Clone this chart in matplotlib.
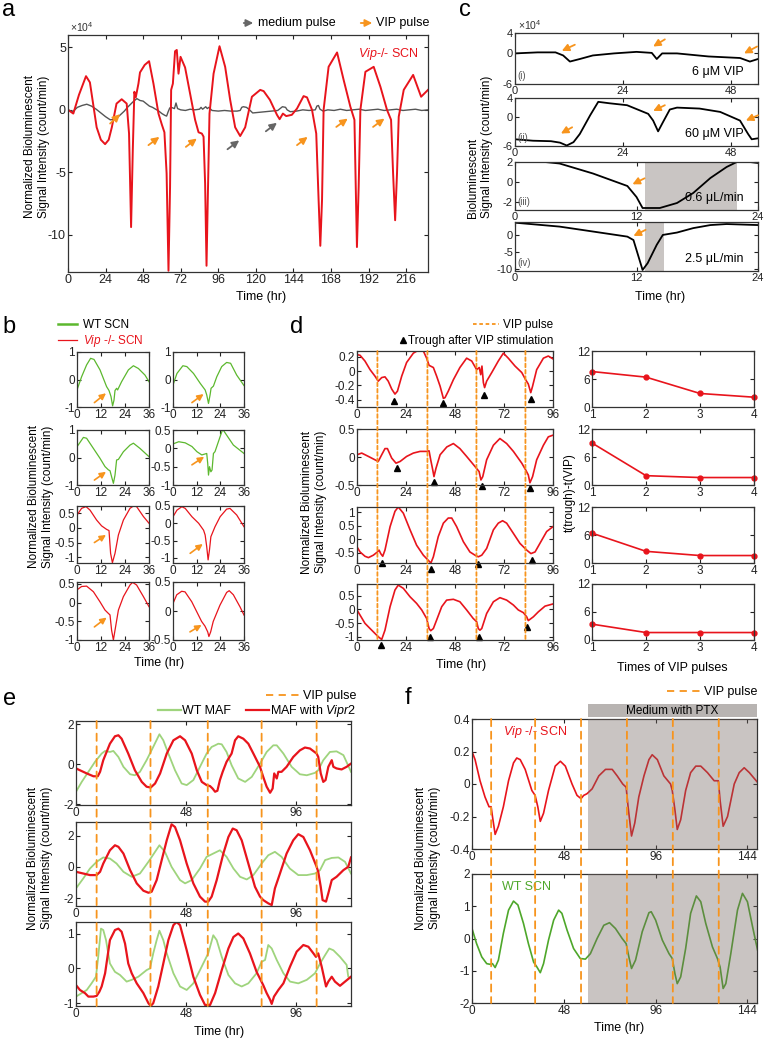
import matplotlib
matplotlib.use('Agg')
import matplotlib.pyplot as plt
from matplotlib.patches import ConnectionPatch, Rectangle
from matplotlib.lines import Line2D
from matplotlib.ticker import FuncFormatter

plt.rcParams['font.family'] = ['Liberation Sans', 'DejaVu Sans']
plt.rcParams['axes.unicode_minus'] = False
plt.rcParams['mathtext.fontset'] = 'custom'
plt.rcParams['mathtext.rm'] = 'Liberation Sans'
plt.rcParams['mathtext.it'] = 'Liberation Sans:italic'

RED = '#e8141c'
ORANGE = '#f7941d'
GRAY = '#555555'
GREEN_B = '#5cb82e'
GREEN_E = '#9fd47d'
GREEN_F = '#4ea72a'

## ---------------- data ----------------
# panel a : Vip-/- SCN (red) and medium control (gray), x10^4 count/min
a_red = [(0, 0), (3.4, -0.3), (7, 1.2), (11.5, 2.7), (14, 2.2), (18.3, -1.4), (21, -2.4),
         (23.7, -2.75), (26, -2.4), (28, -1.4), (31, 0.5), (34.3, 0.85), (37.5, 0.5), (39, -1.9),
         (40.3, -9.4), (41.4, -3.2), (42.4, 1.45), (43.3, 1.0), (45, 2.1), (46, 3.0), (49, 3.6),
         (51.8, 3.9), (54.6, 2.1), (57.8, -0.3), (60, -1.2), (61.6, -1.8), (63, -5.1), (64.2, -12.9),
         (65.2, -6.2), (65.9, 1.6), (67, 2.1), (68.4, 4.7), (69.5, 4.8), (70.6, 2.9), (71.9, 4.25),
         (74.8, 3.4), (78, 1.3), (81.2, -0.8), (83.4, -1.8), (85.5, -1.9), (86.6, -2.15),
         (87.6, -5.9), (88.5, -12.5), (89.3, -7.2), (90.4, -0.3), (93, 2.9), (96.8, 5.1),
         (100.4, 3.45), (103.6, 0.8), (106.8, -1.4), (110, -2.1), (113.2, -1.4), (117.5, 1.05),
         (122.8, 1.6), (125, 1.5), (129, 0.8), (133.5, -0.4), (135.2, -0.75), (137.3, -0.3),
         (139.4, -0.5), (143, -0.4), (146.3, 0.1), (150.5, 1.1), (152.7, 1.0), (155.9, 0),
         (158.6, -1.9), (160.1, -7.2), (161.2, -10.9), (162.3, -7.2), (163.3, 0), (166.5, 3.45),
         (171.9, 4.6), (176.1, 2.4), (180.4, 0.25), (183, -0.8), (183.8, -5.9), (184.6, -11.0),
         (185.7, -6.2), (186.8, 0), (190, 3.05), (195.3, 3.45), (199.6, 1.85), (203.8, 0),
         (206.4, -0.8), (207.7, -5.1), (209, -8.85), (210.2, -5.1), (211.3, -0.55), (214.5, 1.6),
         (220.5, 2.8), (225.6, 1.05), (230, 1.6)]
a_gray = [(0, 0), (3, -0.15), (6, 0.2), (9, 0.35), (12, 0.45), (15, 0.3), (18, 0.05), (21, -0.25),
          (24, -0.55), (27, -0.8), (30, -0.75), (33, -0.45), (36, -0.1), (38, 0.2), (40, 0.45),
          (42, 0.7), (44, 0.9), (46, 0.75), (48, 0.7), (50, 0.5), (52, 0.3), (54, 0.2), (56, 0.05),
          (58, -0.1), (60, -0.3), (62, -0.45), (63, -0.5), (64, -0.15), (65, 0.15), (66, 0.2),
          (68, 0.1), (69, 0.55), (70, 0.1), (71, 0.05), (72, 0.0), (75, -0.05), (78, 0.05),
          (81, 0.0), (84, 0.05), (85, 0.2), (86, 0.05), (88, 0.25), (89, 0.1), (90, 0.2),
          (92, -0.05), (96, -0.1), (100, -0.05), (104, -0.1), (108, -0.1), (110, -0.05),
          (111, 0.2), (112, 0.25), (114, 0.2), (116, 0.0), (118, -0.25), (122, -0.2),
          (126, -0.15), (130, -0.1), (134, -0.05), (136, 0.15), (137, 0.25), (139, 0.2),
          (140, 0.0), (142, -0.15), (146, -0.1), (150, 0.0), (154, -0.05), (158, 0.0),
          (159, 0.3), (160, 0.35), (161, 0.05), (163, -0.1), (166, 0.0), (170, -0.05),
          (174, 0.05), (178, -0.05), (182, 0.0), (186, 0.05), (190, -0.05), (194, 0.0),
          (198, 0.05), (202, -0.05), (206, 0.0), (210, 0.05), (214, -0.05), (218, 0.0),
          (222, 0.05), (226, -0.05), (230, 0.0)]
# arrows (tail t, tail v, head t, head v)
a_vip_arrows = [(26.9, -1.1, 33.3, -0.35), (51.4, -2.83, 58.4, -2.17), (75.3, -2.97, 82.3, -2.3),
                (146.3, -2.83, 153.1, -2.17), (171.4, -1.37, 178.7, -0.7), (194.9, -1.37, 202.2, -0.7)]
a_med_arrows = [(101.9, -3.16, 109.4, -2.45), (126.4, -1.72, 133.5, -1.04)]

# panel b : single pulses, WT (green) and Vip-/- (red)
b_wt1 = [(0, -0.38), (2.3, 0.1), (4.8, 0.53), (6.8, 0.77), (8.5, 0.73), (11.5, 0.35), (14.8, -0.26),
         (16, -0.4), (17, -0.62), (17.8, -0.96), (18.5, -0.75), (19, -0.4), (19.8, -0.32),
         (20.3, -0.38), (22.3, -0.08), (25.7, 0.35), (28.2, 0.5), (30.7, 0.4), (34, 0.16), (36, -0.08)]
b_wt2 = [(0, -0.2), (2, 0.22), (5, 0.5), (7, 0.47), (10.4, 0.22), (13.8, -0.14), (16.3, -0.38),
         (17.1, -0.56), (18, -0.87), (18.8, -0.56), (19.3, -0.32), (20.5, -0.24), (22.2, 0.1),
         (24.7, 0.47), (27.2, 0.62), (29.2, 0.59), (32.3, 0.16), (36, -0.22)]
b_wt3 = [(0, 0.39), (3.2, 0.73), (4.8, 0.7), (8.2, 0.33), (11.5, -0.03), (14, -0.33), (15.7, -0.45),
         (16.5, -0.48), (17.3, -0.7), (18.2, -0.94), (19, -0.64), (19.8, -0.09), (20.7, -0.07),
         (23.2, 0.21), (26.5, 0.45), (28.2, 0.52), (31.5, 0.33), (36, 0.03)]
b_wt4 = [(0, 0.12), (2.9, 0.18), (6.2, 0.15), (9.6, 0.05), (12.1, -0.09), (14.6, -0.18), (17.1, -0.14),
         (17.6, -0.41), (18, -0.73), (18.5, -0.5), (19.2, -0.64), (19.8, -0.59), (20.5, -0.14),
         (21.3, -0.09), (23.9, 0.32), (25.2, 0.52), (27.2, 0.36), (30.6, 0.09), (36, -0.14)]
b_ko1 = [(0, 0.44), (2.3, 0.67), (4.5, 0.73), (6.5, 0.61), (9.8, 0.27), (12.3, 0.07), (14.8, -0.05),
         (16, -0.09), (16.8, -0.87), (17.7, -1.19), (19, -0.87), (20.7, -0.24), (23.2, 0.27),
         (26.5, 0.67), (28.2, 0.75), (29.8, 0.73), (33.2, 0.39), (36, 0.16)]
b_ko2 = [(0, 0.19), (2, 0.38), (4.5, 0.48), (6.2, 0.43), (9.6, 0.19), (13, 0), (15.5, -0.2),
         (16.3, -0.34), (17.1, -0.68), (17.8, -1.06), (18.5, -0.77), (19.2, -0.39), (21.3, -0.1),
         (23.9, 0.19), (27.2, 0.41), (28.9, 0.43), (32.3, 0.24), (36, -0.1)]
b_ko3 = [(0, 0.34), (2.3, 0.43), (4.8, 0.44), (8.2, 0.29), (11.5, 0.02), (14, -0.2), (15.7, -0.29),
         (16.5, -0.33), (17.3, -0.74), (18.2, -1.0), (19, -0.74), (20.7, -0.2), (23.2, 0.16),
         (26.5, 0.47), (27.8, 0.54), (29.8, 0.47), (33.2, 0.16), (36, -0.11)]
b_ko4 = [(0, 0.13), (1.9, 0.28), (4.4, 0.34), (6.1, 0.33), (9.5, 0.16), (12, -0.01), (14.5, -0.18),
         (16.2, -0.26), (17.6, -0.36), (18.2, -0.44), (19.1, -0.36), (20.4, -0.18), (23.8, 0.1),
         (27.2, 0.32), (28.5, 0.35), (30.6, 0.28), (34, 0.07), (36, -0.07)]
b_arrows = [(8.7, -0.84, 14.5, -0.5), (9.6, -0.84, 15.5, -0.53), (8.7, -0.82, 14.5, -0.52),
            (9.6, -0.45, 15.8, -0.23), (8.7, -0.5, 14.5, -0.24), (8.7, -0.87, 15.1, -0.6),
            (8.7, -0.65, 14.8, -0.4), (8.6, -0.36, 14.5, -0.24)]
b_ylims = [(-1, 1), (-1, 1), (-1, 1), (-1, 0.5), (-1.2, 0.75), (-1.15, 0.5), (-1, 0.55), (-0.5, 0.5)]
b_yticks = [[-1, 0, 1], [-1, 0, 1], [-1, 0, 1], [-1, -0.5, 0, 0.5], [-1, -0.5, 0, 0.5],
            [-1, -0.5, 0, 0.5], [-1, -0.5, 0, 0.5], [-0.5, 0, 0.5]]

# panel c : dose / flow rate
c1 = [(0, 0), (5, 0.2), (9, 0.2), (10.7, -0.4), (12.2, -1.6), (14.4, -1.1), (17.3, -0.4), (22, 0),
      (27, 0.3), (30.4, 0.1), (31.5, -1.1), (32.7, 0), (36, 0), (43, -0.6), (50, -0.9), (52.2, -1.6),
      (54, -1.1)]
c2 = [(0, -4.6), (4, -4.9), (8, -5.0), (10, -5.3), (11.5, -5.9), (13, -5.2), (14.4, -3.5), (16.7, 0.4),
      (18.5, 3.2), (21, 2.9), (24.9, 2.5), (29.6, 0.7), (30.7, -0.7), (31.8, -2.95), (32.9, -1.0),
      (34.4, 1.6), (36, 2.0), (41, 1.8), (45.6, 1.1), (50, -0.7), (51.8, -3.5), (52.6, -4.6), (54, -4.4)]
c3 = [(0, 2.3), (2, 2.1), (4.4, 1.85), (7.7, 0.85), (11.1, -0.4), (12, -1.5), (12.6, -2.6),
      (14.3, -2.6), (16, -2.1), (17.6, -1.1), (19.3, 0.4), (20.9, 1.5), (21.9, 2.0), (23.2, 2.0),
      (24, 1.9)]
c4 = [(0, 3.6), (4.4, 2.45), (7.7, 1.0), (11.1, -0.5), (11.7, -1.5), (12.1, -5.4), (12.6, -10.3),
      (13.1, -8.3), (14, -2.9), (14.6, 0), (16, 0.7), (17.6, 2.0), (19.3, 2.9), (20.9, 3.2), (24, 2.9)]
c1_arrows = [(13.3, 1.7, 10.4, 0.5), (33.3, 2.75, 30.7, 1.35), (53.8, 1.35, 50.9, 0.0)]
c2_arrows = [(12.7, -2.1, 10.2, -3.4), (33.3, 2.5, 30.7, 1.3), (54.0, 0.4, 51.3, -0.7)]
c3_arrows = [(12.8, 0.37, 11.6, -0.23)]
c4_arrows = [(12.9, 1.5, 11.7, -0.3)]
c3_shade = (12.8, 21.9)
c4_shade = (12.8, 14.7)

# panel d : repeated VIP pulses
d1 = [(0, 0.23), (1.5, 0.22), (3.9, 0.14), (6.4, 0.02), (8.8, -0.07), (10.4, -0.14), (12.1, -0.09),
      (13.7, -0.08), (15.3, -0.14), (17, -0.25), (18.6, -0.32), (19.8, -0.28), (21.9, -0.07),
      (24.3, 0.12), (27.6, 0.25), (30, 0.29), (32.5, 0.28), (34.1, 0.18), (35.3, 0.08), (37.4, 0.05),
      (39, -0.07), (40.7, -0.21), (42.3, -0.38), (43.1, -0.37), (44.7, -0.28), (47.2, -0.12),
      (50.4, 0.05), (53.7, 0.18), (56.2, 0.14), (58.6, 0.02), (59.9, 0.05), (60.6, -0.05),
      (61.2, 0.07), (61.9, -0.16), (62.5, -0.23), (63.5, -0.14), (66, -0.02), (69.2, 0.14),
      (71.7, 0.25), (74.1, 0.18), (77.4, 0.07), (80.7, -0.02), (82.6, -0.12), (83.9, -0.18),
      (85.1, -0.3), (86, -0.21), (88, 0.02), (91.3, 0.18), (93.7, 0.21), (96, 0.17)]
d2 = [(0, 0.04), (2.3, 0.07), (5.6, 0.01), (8.8, -0.05), (10.4, -0.08), (12.1, 0.04), (13.7, 0.15),
      (14.9, 0.15), (17, -0.02), (19.1, -0.11), (21.1, -0.08), (24.3, 0.01), (27.6, 0.07),
      (30.9, 0.1), (34.1, 0.1), (35.3, 0.11), (36.1, -0.05), (37.1, -0.23), (37.7, -0.35),
      (38.7, -0.2), (40.7, 0.04), (44, 0.18), (47.2, 0.24), (50.4, 0.15), (53.7, 0.01),
      (57.8, -0.17), (59.8, -0.26), (60.7, -0.41), (61.6, -0.35), (63.5, -0.05), (66.8, 0.21),
      (70, 0.33), (73.3, 0.24), (76.6, 0.1), (80.7, -0.11), (82.6, -0.23), (83.9, -0.32),
      (84.7, -0.46), (86, -0.35), (88, -0.05), (91.3, 0.21), (93.7, 0.36), (96, 0.39)]
d3 = [(0, -0.29), (1.5, -0.48), (3.9, -0.64), (5.6, -0.69), (8, -0.6), (10, -0.48), (10.8, -0.41),
      (11.6, -0.54), (12.6, -0.64), (13.7, -0.41), (16.2, 0.46), (18.6, 1.03), (20.2, 1.19),
      (22.7, 0.96), (26, 0.34), (29.2, -0.23), (32.5, -0.6), (34.9, -0.79), (36.2, -0.89),
      (37.4, -0.66), (39.8, 0.09), (42.3, 0.59), (44.7, 0.78), (46.4, 0.78), (48.8, 0.46),
      (52.1, -0.1), (55.3, -0.48), (57.8, -0.6), (59.4, -0.66), (61.1, -0.6), (63.5, -0.35),
      (66.8, 0.34), (69.2, 0.59), (71.3, 0.68), (73.3, 0.59), (76.6, 0.21), (79.8, -0.16),
      (83.1, -0.41), (85.2, -0.54), (87.2, -0.48), (89.6, -0.16), (92.9, 0.28), (96, 0.46)]
d4 = [(0, -0.02), (1.5, -0.21), (3.9, -0.51), (6.4, -0.7), (8.8, -0.88), (10.4, -1.0), (12.1, -1.1),
      (13.7, -0.76), (16.2, 0.1), (18.6, 0.71), (20.2, 0.89), (22.7, 0.77), (26, 0.46), (29.2, 0.22),
      (31.7, -0.02), (34.1, -0.33), (35.3, -0.7), (36.1, -0.78), (37.4, -0.7), (39, -0.39),
      (41.5, 0.1), (43.9, 0.34), (47.2, 0.37), (50.4, 0.28), (53.7, -0.02), (56.9, -0.33),
      (58.6, -0.45), (59.4, -0.7), (60.2, -0.76), (61.1, -0.7), (63.5, -0.15), (66.8, 0.28),
      (70, 0.43), (73.3, 0.34), (76.6, 0.16), (79, -0.02), (81.5, -0.12), (83.1, -0.27),
      (83.9, -0.41), (86.4, -0.27), (88.8, -0.09), (92.1, 0.12), (96, 0.2)]
d1_troughs = [(18.3, -0.42), (42.3, -0.45), (62.4, -0.33), (85.1, -0.39)]
d2_troughs = [(19.8, -0.2), (37.7, -0.45), (61.1, -0.51), (84.7, -0.56)]
d3_troughs = [(12.1, -0.89), (36.2, -1.1), (59.4, -0.91), (85.6, -0.79)]
d4_troughs = [(11.8, -1.3), (35.8, -1.0), (59.9, -1.0), (83.4, -0.63)]
d_ylims = [(-0.5, 0.28), (-0.5, 0.5), (-0.89, 1.19), (-1.12, 0.93)]
d_yticks = [[-0.4, -0.2, 0, 0.2], [-0.5, 0, 0.5], [-0.5, 0, 0.5, 1], [-1, -0.5, 0, 0.5]]
d_pulses = [10, 34.5, 58.5, 82.5]
pulse_no = [1, 2, 3, 4]
d_delay1 = [7.6, 6.4, 2.9, 2.1]
d_delay2 = [9.0, 2.0, 1.6, 1.6]
d_delay3 = [6.4, 2.5, 1.6, 1.6]
d_delay4 = [3.4, 1.6, 1.6, 1.6]

# panel e : MAF with / without Vipr2
e_red1 = [(0, -0.21), (1.7, -0.3), (4.7, -0.46), (7.6, -0.6), (9.5, -0.6), (10.5, -0.38), (11.9, 0.2),
          (14.8, 1.02), (17, 1.39), (18.5, 1.44), (19.9, 1.27), (22.8, 0.53), (25.7, -0.3),
          (28.7, -0.88), (30.8, -1.12), (32.6, -1.16), (34.5, -0.96), (36.7, -0.46), (39.6, 0.53),
          (42.5, 1.19), (45.4, 1.39), (47.6, 1.19), (50.5, 0.53), (52.7, -0.3), (54.9, -0.88),
          (57, -1.04), (58.5, -1.09), (59.6, -1.21), (60.7, -1.37), (61.7, -1.32), (62.8, -0.79),
          (64, -0.38), (65.7, 0.12), (67.9, 0.53), (69.4, 1.19), (70.8, 1.39), (73, 1.27),
          (75.2, 1.02), (77.4, 0.53), (80.3, -0.13), (81.7, -0.63), (83.2, -1.12), (84.7, -1.42),
          (85.8, -1.21), (86.5, -0.46), (87.6, -0.71), (88.3, -0.38), (89.7, -0.38), (91.9, -0.13),
          (94.8, 0.36), (97.7, 0.69), (99.9, 0.83), (102.1, 0.78), (105, 0.53), (105.7, 0.36),
          (106.8, -0.46), (107.9, -0.88), (108.9, -0.79), (110.1, -0.13), (111.6, 0.2),
          (112.3, -0.13), (113.7, -0.21), (115.9, -0.26), (118.1, -0.13), (120, 0.03)]
e_wt1 = [(0, -1.37), (2.5, -0.88), (5.4, -0.38), (8.3, 0.12), (11.2, 0.53), (12.7, 0.66), (14.8, 0.61),
         (16.3, 0.66), (18.5, 0.36), (20.7, -0.13), (23.6, -0.5), (25.7, -0.55), (27.9, -0.38),
         (30.8, 0.2), (33.7, 0.86), (36.4, 1.49), (38.1, 1.19), (40.3, 0.53), (43.2, -0.3),
         (46.1, -0.96), (48.3, -1.04), (51.2, -0.79), (54.1, -0.13), (57, 0.53), (59.2, 0.86),
         (60.7, 0.94), (62.1, 1.02), (63.6, 0.99), (65.7, 0.61), (67.9, -0.05), (70.8, -0.71),
         (73.8, -0.88), (76.7, -0.63), (80.3, 0.03), (83.2, 0.61), (86.1, 0.94), (87.6, 0.94),
         (90.5, 0.53), (94.1, -0.13), (97.7, -0.5), (100.7, -0.55), (104.3, -0.43), (105.7, -0.3),
         (107.9, 0.2), (110.8, 0.61), (113.7, 0.64), (116.7, 0.45), (120, -0.38)]
e_red2 = [(0, -0.32), (3.2, -0.43), (6.1, -0.53), (9, -0.53), (10.5, -0.32), (11.9, 0.21), (14.8, 1.06),
          (17, 1.38), (18.5, 1.28), (20.7, 0.85), (23.6, -0.21), (26.5, -1.06), (29.4, -1.53),
          (31.6, -1.66), (33, -1.6), (35.2, -0.85), (37.4, 0.43), (39.6, 1.7), (41.7, 2.72),
          (43.2, 2.55), (45.4, 1.7), (48.3, 0.21), (51.2, -1.06), (54.1, -1.91), (56.3, -2.23),
          (57.7, -2.23), (59.2, -1.91), (61.4, -0.85), (64.3, 0.85), (66.5, 1.91), (68.4, 2.45),
          (70.1, 2.34), (72.3, 1.7), (75.2, 0.21), (78.1, -1.28), (80.3, -1.91), (81.7, -2.13),
          (83.9, -2.34), (85.4, -2.45), (86.8, -1.38), (89, -0.43), (91.9, 0.85), (94.8, 1.7),
          (97, 2.09), (99.2, 1.91), (102.1, 1.06), (105, 0), (105.7, -0.32), (106.8, -1.28),
          (107.6, -2.13), (109.1, -2.23), (110.1, -1.7), (111.6, -0.85), (113.7, -0.64),
          (116.7, -0.21), (118.8, 0), (120, 0.6)]
e_wt2 = [(0, -1.38), (3.2, -0.74), (6.1, -0.11), (9, 0.32), (11.9, 0.6), (14.8, 0.53), (17.7, 0.21),
         (20.7, -0.32), (24.3, -0.64), (27.9, -0.43), (31.6, 0.32), (34.5, 0.96), (36.4, 1.38),
         (38.8, 0.96), (41.7, 0), (45.4, -0.85), (47.6, -1.06), (50.5, -0.85), (54.1, -0.11),
         (57, 0.64), (59.9, 0.85), (62.8, 1.06), (65.7, 0.64), (68.7, -0.11), (71.6, -0.64),
         (74.5, -0.81), (77.4, -0.53), (81, 0.21), (83.9, 0.74), (86.8, 0.96), (89.7, 0.64),
         (93.3, -0.11), (97, -0.53), (100.7, -0.53), (104.3, -0.43), (106.5, -0.21), (108.7, 0.43),
         (111.6, 0.57), (114.5, 0.6), (117.4, 0.32), (120, -0.43)]
e_red3 = [(0, -0.48), (1.7, -0.62), (3.9, -0.71), (5.4, -0.81), (7.6, -0.81), (9, -0.79), (10.2, -0.67),
          (11.2, -0.52), (12.7, -0.14), (14.8, 0.81), (17, 1.1), (18.5, 1.14), (19.9, 1.05),
          (21.4, 0.71), (22.8, 0.14), (24.3, -0.14), (26.5, -0.43), (29.4, -0.71), (31.6, -1.0),
          (32.6, -1.08), (33.7, -1.0), (35.9, -0.52), (38.1, 0.14), (40.3, 0.81), (42.5, 1.24),
          (43.9, 1.33), (45.4, 1.24), (48.3, 0.52), (51.2, -0.24), (54.1, -0.76), (56.3, -1.05),
          (58.5, -1.05), (60.7, -0.71), (63.6, -0.05), (66.5, 0.57), (68.7, 0.9), (70.8, 1.0),
          (73, 0.86), (75.9, 0.43), (78.8, -0.1), (81.7, -0.48), (83.2, -0.71), (84.7, -0.9),
          (85.4, -1.02), (86.4, -0.81), (88.3, -0.62), (90.5, -0.43), (93.4, 0.05), (96.3, 0.48),
          (99.2, 0.67), (101.4, 0.62), (103.6, 0.43), (104.7, 0.33), (105.7, 0.43), (107.2, 0.05),
          (109.1, -0.52), (110.1, -0.38), (111.6, -0.24), (113, -0.38), (115.2, -0.5),
          (117.4, -0.38), (120, -0.24)]
e_wt3 = [(0, -0.81), (2.5, -0.71), (4.7, -0.62), (6.8, -0.43), (8.7, -0.24), (9.7, 0.33), (10.9, 1.14),
         (11.9, 1.1), (13.1, 0.81), (14.8, 0.14), (17, -0.1), (19.2, -0.19), (22.1, -0.38),
         (24.3, -0.33), (27.2, -0.24), (30.8, -0.05), (32.3, 0), (33.7, 0.43), (35.2, 0.81),
         (36.4, 1.08), (38.1, 0.81), (39.6, 0.43), (42.5, -0.14), (45.4, -0.52), (48.3, -0.62),
         (51.2, -0.43), (54.1, -0.05), (57.7, 0.43), (59.9, 0.95), (61.4, 0.81), (63.6, 0.33),
         (66.5, -0.19), (69.4, -0.43), (72.3, -0.52), (75.2, -0.43), (78.8, -0.14), (81, 0.19),
         (82.5, 0.24), (83.9, 0.67), (85.4, 0.57), (87.6, 0.24), (90.5, -0.14), (93.4, -0.38),
         (97, -0.43), (100.7, -0.33), (104.3, -0.14), (106.5, 0.14), (108.7, 0.38), (110.5, 0.57),
         (112.3, 0.52), (115.2, 0.33), (118.1, 0.1), (118.8, -0.24), (120, -0.29)]
e_ylims = [(-2.03, 2.15), (-2.51, 2.87), (-1.08, 1.33)]
e_yticks = [[-2, 0, 2], [-2, 0, 2], [-1, 0, 1]]
e_pulses = [9, 32.5, 57.5, 81, 105]

# panel f : PTX treatment
f_red = [(0, 0.2), (1.6, 0.15), (4.2, 0.02), (6.8, -0.08), (8.9, -0.14), (10, -0.14), (10.7, -0.2),
         (12.1, -0.31), (13.8, -0.26), (16.4, -0.14), (19.1, 0.02), (21.7, 0.13), (23.4, 0.16),
         (25.2, 0.15), (27.8, 0.09), (31.3, -0.04), (33, -0.07), (34.4, -0.14), (35.7, -0.23),
         (37.4, -0.18), (40, -0.04), (43.5, 0.11), (46.2, 0.14), (48.8, 0.11), (52.3, 0),
         (54.9, -0.07), (57, -0.09), (58.4, -0.07), (60.1, -0.06), (62.8, -0.03), (66.3, 0.05),
         (69.8, 0.09), (73.3, 0.09), (75.9, 0.05), (78.8, 0), (80.6, -0.02), (81.6, -0.14),
         (83.4, -0.32), (85.1, -0.24), (87.2, -0.08), (89.9, 0.05), (92.5, 0.15), (94.2, 0.18),
         (96.9, 0.15), (100.3, 0.05), (103.8, 0), (104.7, -0.04), (106.1, -0.16), (107.3, -0.28),
         (109.1, -0.22), (111.7, -0.04), (114.3, 0.07), (117, 0.11), (119.6, 0.11), (123.1, 0.07),
         (126.6, 0.02), (128.8, 0.02), (129.7, -0.1), (131.3, -0.26), (133.6, -0.2), (137.1, 0),
         (139.7, 0.07), (142.3, 0.1), (145, 0.07), (149.3, 0.01)]
f_wt = [(0, 0.31), (2.4, -0.16), (5.1, -0.57), (7.7, -0.78), (9.4, -0.8), (10.7, -0.78), (12.1, -0.9),
        (13.8, -0.67), (16.4, 0.16), (19.1, 0.88), (21.7, 1.16), (24, 1.04), (26.9, 0.47),
        (29.5, -0.16), (32.2, -0.73), (33.9, -0.88), (35.7, -1.06), (37.4, -0.78), (40, -0.05),
        (42.7, 0.57), (45.3, 0.88), (47, 0.78), (49.7, 0.26), (53.1, -0.31), (56.6, -0.62),
        (59.3, -0.64), (61.9, -0.47), (65.4, 0), (68.9, 0.41), (71.9, 0.49), (75, 0.31), (78.5, 0),
        (80.6, -0.16), (82, -0.57), (83.4, -0.93), (85.5, -0.67), (89, 0.21), (92.5, 0.8),
        (93.7, 0.83), (96, 0.57), (99.5, -0.05), (103, -0.47), (104.7, -0.62), (106.1, -1.09),
        (107.3, -1.4), (109.1, -1.19), (111.7, -0.31), (114.3, 0.78), (117.3, 1.32), (119.6, 1.14),
        (122.2, 0.47), (125.7, -0.26), (128.3, -0.62), (129.7, -0.88), (131.3, -1.55),
        (132.7, -1.4), (135.3, -0.47), (138.8, 0.88), (141.4, 1.4), (144, 1.14), (146.7, 0.36),
        (149.3, -0.36)]
f_pulses = [10, 33, 57, 81, 105, 129]
f_ptx_start = 60.5

## ---------------- helpers ----------------
W, H = 765, 1041
fig = plt.figure(figsize=(W / 100, H / 100), dpi=100)


def box(l, t, r, b):
    return [l / W, 1 - b / H, (r - l) / W, (b - t) / H]


def ftext(x, y, s, **kw):
    fig.text(x / W, 1 - y / H, s, **kw)


def gfmt(v, p):
    return '%g' % v


def style(ax, xlim, ylim, xt, yt, fs=8.5):
    ax.set_xlim(xlim)
    ax.set_ylim(ylim)
    ax.set_xticks(xt)
    ax.set_yticks(yt)
    ax.xaxis.set_major_formatter(FuncFormatter(gfmt))
    ax.yaxis.set_major_formatter(FuncFormatter(gfmt))
    ax.tick_params(direction='in', top=True, right=True, length=3, width=0.8,
                   labelsize=fs, pad=1.5, colors='#222222')
    for s in ax.spines.values():
        s.set_linewidth(0.9)
        s.set_color('#333333')


def arrow(ax, a, color, lw=1.3, ms=7):
    ax.annotate('', xy=(a[2], a[3]), xytext=(a[0], a[1]),
                arrowprops=dict(arrowstyle='-|>,head_length=0.6,head_width=0.3', color=color,
                                lw=lw, shrinkA=0, shrinkB=0, mutation_scale=ms),
                annotation_clip=False)


def pulse_lines(ax_top, ax_bot, times, dashes):
    for t in times:
        con = ConnectionPatch(xyA=(t, 1), coordsA=ax_top.get_xaxis_transform(),
                              xyB=(t, 0), coordsB=ax_bot.get_xaxis_transform(),
                              color=ORANGE, lw=1.3, ls=(0, dashes))
        fig.add_artist(con)


def ylab(x, y, s, **kw):
    ftext(x, y, s, rotation=90, ha='center', va='center', fontsize=8.5, **kw)


def xy(series):
    return [p[0] for p in series], [p[1] for p in series]


## ---------------- panel a ----------------
ax = fig.add_axes(box(68, 35, 428, 272))
ax.plot(*xy(a_gray), color=GRAY, lw=1.0)
ax.plot(*xy(a_red), color=RED, lw=1.4)
for a in a_vip_arrows:
    arrow(ax, a, ORANGE)
for a in a_med_arrows:
    arrow(ax, a, '#666666')
style(ax, (0, 230), (-13, 6), range(0, 217, 24), [-10, -5, 0, 5], fs=9)
ax.text(0.975, 0.92, r'$\mathit{Vip}$-/- SCN', color=RED, fontsize=9, ha='right', va='center',
        transform=ax.transAxes)
ftext(70, 27, r'$\times$10$^4$', fontsize=7.5, ha='left', va='center', color='#333333')
ylab(37, 147, 'Normalized Bioluminescent\nSignal Intensity (count/min)')
ftext(261, 297, 'Time (hr)', fontsize=9, ha='center', va='center')
for x0, x1, xt, c, s in [(241, 256, 258, '#666666', 'medium pulse'), (358, 375, 376, ORANGE, 'VIP pulse')]:
    fig.add_artist(matplotlib.patches.FancyArrowPatch(
        (x0 / W, 1 - 23 / H), (x1 / W, 1 - 23 / H), transform=fig.transFigure,
        arrowstyle='-|>,head_length=0.6,head_width=0.3', mutation_scale=7, color=c, lw=1.3))
    ftext(xt, 23, s, fontsize=9, ha='left', va='center')

## ---------------- panel c ----------------
c_boxes = [(515, 33, 758, 84), (515, 98, 758, 146), (515, 162, 758, 210), (515, 222, 758, 271)]
c_series = [c1, c2, c3, c4]
c_arrows = [c1_arrows, c2_arrows, c3_arrows, c4_arrows]
c_lims = [((0, 54), (-6, 4), [0, 24, 48], [-6, 0, 4]),
          ((0, 54), (-6, 4), [0, 24, 48], [-6, 0, 4]),
          ((0, 24), (-2.8, 2), [0, 12, 24], [-2, 0, 2]),
          ((0, 24), (-10.6, 3.8), [0, 12, 24], [-10, -5, 0])]
c_roman = ['(i)', '(ii)', '(iii)', '(iv)']
c_notes = ['6 μM VIP', '60 μM VIP', '0.6 μL/min', '2.5 μL/min']
for i in range(4):
    ax = fig.add_axes(box(*c_boxes[i]))
    if i == 2:
        ax.axvspan(*c3_shade, color='#c9c5c3', lw=0, zorder=0)
    if i == 3:
        ax.axvspan(*c4_shade, color='#c9c5c3', lw=0, zorder=0)
    ax.plot(*xy(c_series[i]), color='black', lw=1.3)
    for a in c_arrows[i]:
        arrow(ax, a, ORANGE)
    style(ax, *c_lims[i], fs=8)
    ax.text(0.01, 0.16, c_roman[i], fontsize=7, color='#555555', transform=ax.transAxes,
            ha='left', va='center')
    ax.text(0.94, 0.24, c_notes[i], fontsize=9, transform=ax.transAxes, ha='right', va='center')
ftext(518, 25, r'$\times$10$^4$', fontsize=7.5, ha='left', va='center', color='#333333')
ylab(480, 147, 'Bioluminescent\nSignal Intensity (count/min)', multialignment='left')
ftext(660, 297, 'Time (hr)', fontsize=9, ha='center', va='center')

## ---------------- panel b ----------------
b_cols = [(77, 149), (173, 244)]
b_rows = [(352, 407), (430, 485), (506, 563), (582, 640)]
b_series = [b_wt1, b_wt2, b_wt3, b_wt4, b_ko1, b_ko2, b_ko3, b_ko4]
for i, s in enumerate(b_series):
    r, c = divmod(i, 2)
    ax = fig.add_axes(box(b_cols[c][0], b_rows[r][0], b_cols[c][1], b_rows[r][1]))
    ax.plot(*xy(s), color=GREEN_B if i < 4 else RED, lw=0.9)
    arrow(ax, b_arrows[i], ORANGE, lw=1.2, ms=6)
    style(ax, (0, 36), b_ylims[i], [0, 12, 24, 36], b_yticks[i], fs=8.5)
    if i == 0:
        leg = ax.legend([Line2D([], [], color=GREEN_B, lw=1.8), Line2D([], [], color=RED, lw=0.9)],
                        ['WT SCN', r'$\mathit{Vip}$ -/- SCN'], loc='upper left',
                        bbox_to_anchor=(58 / W, 1 - 319 / H), bbox_transform=fig.transFigure,
                        frameon=False, fontsize=8.5, handlelength=1.6, handletextpad=0.5,
                        labelspacing=0.15, borderpad=0, borderaxespad=0)
        leg.get_texts()[1].set_color(RED)
ylab(41, 497, 'Normalized Bioluminescent\nSignal Intensity (count/min)')
ftext(159, 663, 'Time (hr)', fontsize=9, ha='center', va='center')

## ---------------- panel d ----------------
d_rows = [(351, 407), (429, 485), (507, 563), (584, 640)]
d_series = [d1, d2, d3, d4]
d_tri = [d1_troughs, d2_troughs, d3_troughs, d4_troughs]
d_delays = [d_delay1, d_delay2, d_delay3, d_delay4]
d_left = []
for i in range(4):
    ax = fig.add_axes(box(357, d_rows[i][0], 553, d_rows[i][1]))
    ax.plot(*xy(d_series[i]), color=RED, lw=1.2)
    ax.plot(*xy(d_tri[i]), '^', color='black', ms=5, clip_on=False)
    style(ax, (0, 96), d_ylims[i], [0, 24, 48, 72, 96], d_yticks[i], fs=8.5)
    d_left.append(ax)
    axr = fig.add_axes(box(592, d_rows[i][0], 754, d_rows[i][1]))
    axr.plot(pulse_no, d_delays[i], '-o', color=RED, lw=1.2, ms=3.5, clip_on=False)
    style(axr, (1, 4), (0, 12), pulse_no, [0, 6, 12], fs=8.5)
pulse_lines(d_left[0], d_left[-1], d_pulses, (2, 1.5))
leg1 = d_left[0].legend([Line2D([], [], color=ORANGE, ls=(0, (2, 1.5)), lw=1.3)], ['VIP pulse'],
                        loc='center right', bbox_to_anchor=(553 / W, 1 - 325 / H),
                        bbox_transform=fig.transFigure, frameon=False, fontsize=8.5,
                        handlelength=2.2, handletextpad=0.3, borderpad=0, borderaxespad=0)
d_left[0].add_artist(leg1)
d_left[0].legend([Line2D([], [], color='black', marker='^', ls='none', ms=5)],
                 ['Trough after VIP stimulation'], loc='center right',
                 bbox_to_anchor=(553 / W, 1 - 341 / H), bbox_transform=fig.transFigure,
                 frameon=False, fontsize=8.5, handlelength=0.6, handletextpad=0.1,
                 borderpad=0, borderaxespad=0)
ylab(314, 502, 'Normalized Bioluminescent\nSignal Intensity (count/min)')
ylab(570, 493, 't(trough)-t(VIP)')
ftext(461, 665, 'Time (hr)', fontsize=9, ha='center', va='center')
ftext(672, 668, 'Times of VIP pulses', fontsize=9, ha='center', va='center')

## ---------------- panel e ----------------
e_rows = [(721, 805), (822, 906), (922, 1006)]
e_red = [e_red1, e_red2, e_red3]
e_wt = [e_wt1, e_wt2, e_wt3]
e_axes = []
for i in range(3):
    ax = fig.add_axes(box(76, e_rows[i][0], 351, e_rows[i][1]))
    ax.plot(*xy(e_wt[i]), color=GREEN_E, lw=1.3)
    ax.plot(*xy(e_red[i]), color=RED, lw=1.6)
    style(ax, (0, 120), e_ylims[i], [0, 48, 96], e_yticks[i], fs=8.5)
    e_axes.append(ax)
pulse_lines(e_axes[0], e_axes[-1], e_pulses, (4, 3))
leg1 = e_axes[0].legend([Line2D([], [], color=ORANGE, ls=(0, (4, 3)), lw=1.3)], ['VIP pulse'],
                        loc='center right', bbox_to_anchor=(356 / W, 1 - 696 / H),
                        bbox_transform=fig.transFigure, frameon=False, fontsize=9,
                        handlelength=2.6, handletextpad=0.3, borderpad=0, borderaxespad=0)
e_axes[0].add_artist(leg1)
e_axes[0].legend([Line2D([], [], color=GREEN_E, lw=1.6), Line2D([], [], color=RED, lw=1.6)],
                 ['WT MAF', r'MAF with $\mathit{Vipr2}$'], loc='center right', ncol=2,
                 bbox_to_anchor=(356 / W, 1 - 711 / H), bbox_transform=fig.transFigure,
                 frameon=False, fontsize=9, handlelength=1.8, handletextpad=0.1,
                 columnspacing=1.2, borderpad=0, borderaxespad=0)
ylab(40, 858, 'Normalized Bioluminescent\nSignal Intensity (count/min)')
ftext(219, 1032, 'Time (hr)', fontsize=9, ha='center', va='center')

## ---------------- panel f ----------------
f_rows = [(719, 849), (874, 1003)]
f_data = [(f_red, RED, (-0.4, 0.4), [-0.4, -0.2, 0, 0.2, 0.4]),
          (f_wt, GREEN_F, (-2, 2), [-2, -1, 0, 1, 2])]
f_axes = []
for i in range(2):
    ax = fig.add_axes(box(472, f_rows[i][0], 757, f_rows[i][1]))
    s, col, yl, yt = f_data[i]
    ax.plot(*xy(s), color=col, lw=1.2)
    ax.axvspan(f_ptx_start, 149, color=(0.45, 0.4, 0.38), alpha=0.38, lw=0, zorder=3)
    style(ax, (0, 149), yl, [0, 48, 96, 144], yt, fs=8.5)
    f_axes.append(ax)
pulse_lines(f_axes[0], f_axes[-1], f_pulses, (4, 3))
f_axes[0].add_patch(Rectangle((f_ptx_start, 1.015), 149 - f_ptx_start, 0.1,
                              transform=f_axes[0].get_xaxis_transform(), color='#b8b4b2',
                              lw=0, clip_on=False))
f_axes[0].text((f_ptx_start + 149) / 2, 1.065, 'Medium with PTX', fontsize=8.5, ha='center',
               va='center', transform=f_axes[0].get_xaxis_transform())
f_axes[0].text(0.11, 0.9, r'$\mathit{Vip}$ -/- SCN', color=RED, fontsize=9, ha='left', va='center',
               transform=f_axes[0].transAxes)
f_axes[1].text(0.105, 0.9, 'WT SCN', color=GREEN_F, fontsize=9, ha='left', va='center',
               transform=f_axes[1].transAxes)
f_axes[0].legend([Line2D([], [], color=ORANGE, ls=(0, (4, 3)), lw=1.3)], ['VIP pulse'],
                 loc='center right', bbox_to_anchor=(757 / W, 1 - 692 / H),
                 bbox_transform=fig.transFigure, frameon=False, fontsize=9,
                 handlelength=2.6, handletextpad=0.3, borderpad=0, borderaxespad=0)
ylab(428, 858, 'Normalized Bioluminescent\nSignal Intensity (count/min)')
ftext(619, 1028, 'Time (hr)', fontsize=9, ha='center', va='center')

## ---------------- panel letters ----------------
for s, x, y in [('a', 9, 10), ('c', 465, 10), ('b', 9, 327), ('d', 297, 327), ('e', 10, 699), ('f', 408, 698)]:
    ftext(x, y, s, fontsize=17, ha='center', va='center')

fig.savefig('out.png', dpi=100)
